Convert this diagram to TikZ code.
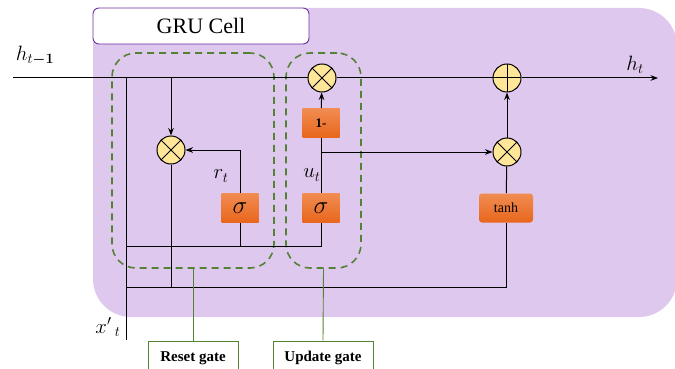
\documentclass[tikz,border=0pt]{standalone}
\usepackage{fontspec}
\usepackage{amsmath}
\setmainfont{Liberation Serif}
\usetikzlibrary{positioning, calc, arrows.meta}

\definecolor{cellbg}{RGB}{223,200,237}
\definecolor{cellframe}{RGB}{112,48,160}
\definecolor{gategreen}{RGB}{84,130,53}
\definecolor{opyellow}{RGB}{255,230,153}
\definecolor{optop}{RGB}{241,140,82}
\definecolor{opbot}{RGB}{232,102,28}

\tikzset{
    mulnode/.style={circle, draw, line width=1pt, fill=opyellow, minimum size=28, inner sep=0,
        path picture={\draw[line width=1pt] (path picture bounding box.north west) -- (path picture bounding box.south east)
            (path picture bounding box.north east) -- (path picture bounding box.south west);}},
    addnode/.style={circle, draw, line width=1pt, fill=opyellow, minimum size=28, inner sep=0,
        path picture={\draw[line width=1pt] (path picture bounding box.north) -- (path picture bounding box.south)
            (path picture bounding box.west) -- (path picture bounding box.east);}},
    opbox/.style={top color=optop, bottom color=opbot, minimum width=37, minimum height=29, inner sep=0},
    gatefrm/.style={draw=gategreen, line width=1.6pt, dash pattern=on 7pt off 5pt, rounded corners=24pt,
        minimum height=215, inner sep=0},
    gatelabel/.style={draw=gategreen, line width=0.9pt, fill=white, minimum height=34, inner sep=0,
        font=\fontsize{15}{18}\selectfont\bfseries},
    lbl/.style={font=\fontsize{21}{24}\selectfont}
}

\begin{document}
\begin{tikzpicture}[x=1pt, y=-1pt, >=Stealth, line width=1pt]
    \useasboundingbox (0,0) rectangle (675,369);

    % Cell background
    \fill[cellbg, rounded corners=38pt] (93,8) rectangle (677,317);
    \node[draw=cellframe, line width=0.9pt, fill=white, rounded corners=6pt, minimum width=216, minimum height=36,
        inner sep=0, font=\fontsize{22}{26}\selectfont] (title) at (201,26) {GRU Cell};

    % Gate frames
    \node[gatefrm, minimum width=162] (rframe) at (193,160.5) {};
    \node[gatefrm, minimum width=75] (uframe) at (323.5,160.5) {};

    % Coordinates
    \coordinate (hin) at (13,78);
    \coordinate (hout) at (658,78);
    \coordinate (xin) at (126,340);
    \coordinate (xtop) at (126,78);
    \coordinate (gin) at (126,246);
    \coordinate (cin) at (126,287);
    \coordinate (ub) at (322,152);

    % Operators
    \node[mulnode] (rmul) at (171,150) {};
    \node[mulnode] (umul) at (322,78) {};
    \node[mulnode] (omul) at (507,152) {};
    \node[addnode] (addh) at (507,78) {};
    \node[opbox, font=\fontsize{23}{26}\selectfont] (sigr) at (240,208) {$\sigma$};
    \node[opbox, font=\fontsize{23}{26}\selectfont] (sigu) at (321,208) {$\sigma$};
    \node[opbox, font=\fontsize{13}{16}\selectfont\bfseries] (onem) at (321,123) {1-};
    \node[opbox, rounded corners=3pt, minimum width=54, font=\fontsize{14}{16}\selectfont] (tanhb) at (506,208) {tanh};

    % Main line
    \draw[->] (hin) -- (umul) -- (addh) -- (hout);
    \draw (xin) -- (xtop);

    % Reset gate
    \draw[->] (rmul |- hin) -- (rmul);
    \draw[->] (sigr) |- (rmul);
    \draw (gin) -| (sigu);
    \draw (sigr |- gin) -- (sigr);

    % Update gate
    \draw (sigu) -- (onem);
    \draw[->] (onem) -- (umul);
    \draw[->] (ub) -- (omul);
    \draw[->] (omul) -- (addh);

    % Candidate
    \draw (rmul) -- (rmul |- cin);
    \draw (cin) -| (tanhb);
    \draw (tanhb) -- (omul);

    % Labels
    \node[lbl] (hprev) at (35,56) {$h_{t\boldsymbol{-1}}$};
    \node[lbl] (hcur) at (635,65) {$h_t$};
    \node[lbl] (rlab) at (221,176) {$r_t$};
    \node[lbl] (ulab) at (312,175) {$u_t$};
    \node[lbl] (xlab) at (108,327) {$x'\,{}_t$};

    % Gate names
    \node[gatelabel, minimum width=90] (rname) at (193,358) {Reset gate};
    \node[gatelabel, minimum width=100] (uname) at (323,358) {Update gate};
    \draw[gategreen, line width=0.9pt] (rframe.south) -- (rname.north);
    \draw[gategreen, line width=0.9pt] (uframe.south) -- (uname.north);
\end{tikzpicture}
\end{document}
